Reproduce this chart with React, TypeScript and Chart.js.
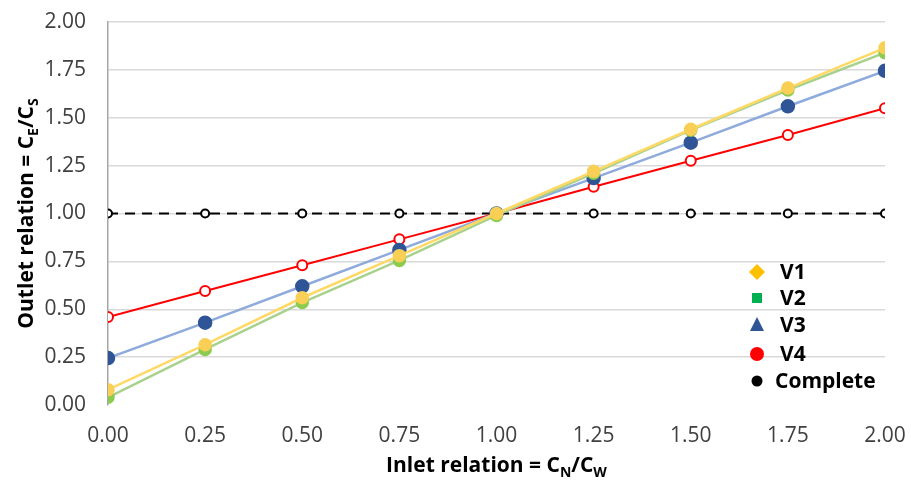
import React, { useEffect, useRef } from "react";
import { Chart, registerables } from "chart.js";

Chart.register(...registerables);

const inletRatios = [0, 0.25, 0.5, 0.75, 1.0, 1.25, 1.5, 1.75, 2.0];
const v1Values = [0.08, 0.315, 0.56, 0.78, 1.0, 1.22, 1.44, 1.655, 1.865];
const v2Values = [0.04, 0.29, 0.535, 0.755, 0.99, 1.21, 1.435, 1.645, 1.84];
const v3Values = [0.245, 0.43, 0.62, 0.81, 1.0, 1.185, 1.37, 1.56, 1.745];
const v4Values = [0.46, 0.595, 0.73, 0.865, 1.0, 1.14, 1.275, 1.41, 1.55];
const completeValues = [1, 1, 1, 1, 1, 1, 1, 1, 1];
const seriesNames = ["V1", "V2", "V3", "V4", "Complete"];
const tickValues = [0, 0.25, 0.5, 0.75, 1.0, 1.25, 1.5, 1.75, 2.0];

const FONT = "'Open Sans', 'Liberation Sans', sans-serif";

type Part = { t: string; sub?: boolean };

function drawRich(ctx: CanvasRenderingContext2D, parts: Part[], cx: number, cy: number) {
  const main = `bold 21px ${FONT}`;
  const sub = `bold 14px ${FONT}`;
  let total = 0;
  const widths = parts.map((p) => {
    ctx.font = p.sub ? sub : main;
    const w = ctx.measureText(p.t).width;
    total += w;
    return w;
  });
  let x = cx - total / 2;
  ctx.textAlign = "left";
  ctx.textBaseline = "middle";
  ctx.fillStyle = "#000";
  parts.forEach((p, i) => {
    ctx.font = p.sub ? sub : main;
    ctx.fillText(p.t, x, p.sub ? cy + 7 : cy);
    x += widths[i];
  });
}

const overlayPlugin = {
  id: "overlay",
  afterDraw(chart: any) {
    const ctx: CanvasRenderingContext2D = chart.ctx;
    const area = chart.chartArea;
    ctx.save();
    drawRich(
      ctx,
      [{ t: "Inlet relation = C" }, { t: "N", sub: true }, { t: "/C" }, { t: "W", sub: true }],
      (area.left + area.right) / 2,
      466
    );
    ctx.save();
    ctx.translate(27, (area.top + area.bottom) / 2);
    ctx.rotate(-Math.PI / 2);
    drawRich(
      ctx,
      [{ t: "Outlet relation = C" }, { t: "E", sub: true }, { t: "/C" }, { t: "S", sub: true }],
      0,
      0
    );
    ctx.restore();

    const lx = 757;
    const tx = 780;
    const rows = [272, 298, 325, 354, 381];
    const colors = ["#FFC000", "#00B050", "#2F5597", "#FF0000", "#000000"];
    rows.forEach((y, i) => {
      ctx.fillStyle = colors[i];
      ctx.beginPath();
      if (i === 0) {
        ctx.moveTo(lx, y - 8);
        ctx.lineTo(lx + 8, y);
        ctx.lineTo(lx, y + 8);
        ctx.lineTo(lx - 8, y);
        ctx.closePath();
      } else if (i === 1) {
        ctx.rect(lx - 5, y - 5, 10, 10);
      } else if (i === 2) {
        ctx.moveTo(lx, y - 8);
        ctx.lineTo(lx + 7, y + 6);
        ctx.lineTo(lx - 7, y + 6);
        ctx.closePath();
      } else if (i === 3) {
        ctx.arc(lx, y, 7, 0, Math.PI * 2);
      } else {
        ctx.arc(lx, y, 5.5, 0, Math.PI * 2);
      }
      ctx.fill();
      ctx.fillStyle = "#000";
      ctx.font = `bold 21px ${FONT}`;
      ctx.textAlign = "left";
      ctx.textBaseline = "middle";
      ctx.fillText(seriesNames[i], i === 4 ? tx - 5 : tx, y + 1);
    });
    ctx.restore();
  },
};

function toPoints(vals: number[]) {
  return inletRatios.map((x, i) => ({ x, y: vals[i] }));
}

export default function App() {
  const ref = useRef<HTMLCanvasElement | null>(null);
  useEffect(() => {
    document.body.style.margin = "0";
    if (!ref.current) return;
    const chart = new Chart(ref.current, {
      type: "line",
      data: {
        datasets: [
          {
            label: seriesNames[0],
            data: toPoints(v1Values),
            borderColor: "#FFD966",
            backgroundColor: "#F9CF55",
            pointBorderColor: "#F9CF55",
            pointRadius: 5.5,
            borderWidth: 2.5,
          },
          {
            label: seriesNames[1],
            data: toPoints(v2Values),
            borderColor: "#A9D18E",
            backgroundColor: "#8CCB4E",
            pointBorderColor: "#8CCB4E",
            pointRadius: 5.5,
            borderWidth: 2.5,
          },
          {
            label: seriesNames[2],
            data: toPoints(v3Values),
            borderColor: "#8FAADC",
            backgroundColor: "#2F5597",
            pointBorderColor: "#2F5597",
            pointRadius: 6,
            borderWidth: 2.5,
          },
          {
            label: seriesNames[3],
            data: toPoints(v4Values),
            borderColor: "#FF0000",
            backgroundColor: "#FFFFFF",
            pointBorderColor: "#FF0000",
            pointBorderWidth: 2,
            pointRadius: 5,
            borderWidth: 2,
          },
          {
            label: seriesNames[4],
            data: toPoints(completeValues),
            borderColor: "#000000",
            backgroundColor: "#FFFFFF",
            pointBorderColor: "#000000",
            pointBorderWidth: 2,
            pointRadius: 4,
            borderWidth: 2.2,
            borderDash: [10, 7],
          },
        ],
      },
      options: {
        animation: false,
        responsive: false,
        maintainAspectRatio: false,
        layout: { padding: { top: 22, right: 26, left: 0, bottom: 0 } },
        plugins: { legend: { display: false }, tooltip: { enabled: false } },
        scales: {
          x: {
            type: "linear",
            min: 0,
            max: 2,
            afterBuildTicks: (s: any) => {
              s.ticks = tickValues.map((v) => ({ value: v }));
            },
            ticks: {
              callback: (v: any) => Number(v).toFixed(2),
              font: { family: FONT, size: 21 },
              color: "#404040",
              padding: 18,
              maxRotation: 0,
            },
            grid: { display: false, drawTicks: false },
            border: { display: false },
            afterFit: (s: any) => {
              s.height = 80;
              s.paddingLeft = 0;
              s.paddingRight = 0;
            },
          },
          y: {
            min: 0,
            max: 2,
            afterBuildTicks: (s: any) => {
              s.ticks = tickValues.map((v) => ({ value: v }));
            },
            ticks: {
              callback: (v: any) => Number(v).toFixed(2),
              font: { family: FONT, size: 21 },
              color: "#404040",
              padding: 22,
            },
            grid: {
              drawTicks: false,
              color: (c: any) => (c.tick && c.tick.value === 0 ? "rgba(0,0,0,0)" : "#D9D9D9"),
              lineWidth: 1.5,
            },
            border: { display: true, color: "#A6A6A6", width: 1.5 },
            afterFit: (s: any) => {
              s.width = 108;
              s.paddingTop = 0;
              s.paddingBottom = 0;
            },
          },
        },
      },
      plugins: [overlayPlugin],
    } as any);
    return () => chart.destroy();
  }, []);
  return (
    <div style={{ position: "absolute", left: 0, top: 0, width: 911, height: 485, background: "#fff" }}>
      <canvas ref={ref} width={911} height={485} />
    </div>
  );
}
